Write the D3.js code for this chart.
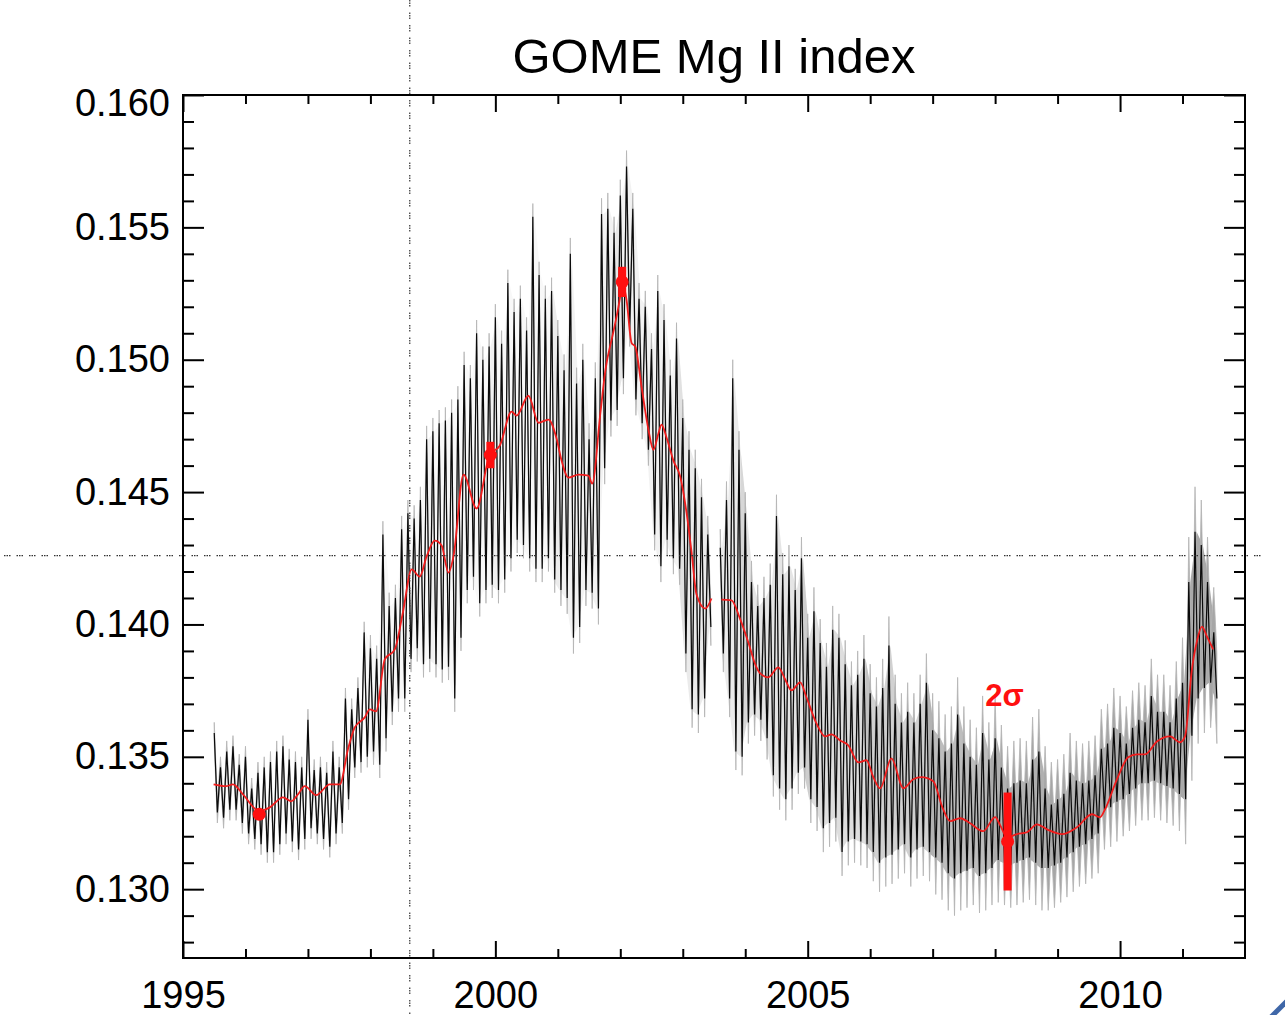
<!DOCTYPE html>
<html>
<head>
<meta charset="utf-8">
<script src="https://cdn.jsdelivr.net/npm/d3@7/dist/d3.min.js"></script>
<style>
  body { margin: 0; background: #fff; }
  svg { display: block; }
</style>
</head>
<body>
<div id="chart"></div>
<script>
// ---- data ----
const chartTitle = "GOME Mg II index";
const yMajorTicks = [0.130, 0.135, 0.140, 0.145, 0.150, 0.155, 0.160];
const xMajorTicks = [1995, 2000, 2005, 2010];

// daily index: local maxima / minima, one pair per 0.1 yr starting 1995.5
const sampleStart = 1995.5;
const sampleStep = 0.1;
const blackHi = [
  0.1359, 0.1346, 0.1352, 0.1354, 0.1347,
  0.1350, 0.1338, 0.1344, 0.1346, 0.1348, 0.1352, 0.1354, 0.1349, 0.1348, 0.1346,
  0.1364, 0.1345, 0.1346, 0.1344, 0.1352, 0.1346, 0.1372, 0.1368, 0.1376, 0.1397,
  0.1391, 0.1387, 0.1434, 0.1407, 0.1410, 0.1436, 0.1442, 0.1440, 0.1447, 0.1470,
  0.1473, 0.1476, 0.1477, 0.1480, 0.1485, 0.1498, 0.1493, 0.1510, 0.1500, 0.1505,
  0.1516, 0.1506, 0.1529, 0.1518, 0.1523, 0.1511, 0.1554, 0.1532, 0.1523, 0.1526,
  0.1509, 0.1496, 0.1540, 0.1491, 0.1500, 0.1470, 0.1493, 0.1555, 0.1557, 0.1548,
  0.1562, 0.1573, 0.1557, 0.1523, 0.1520, 0.1504, 0.1526, 0.1515, 0.1494, 0.1508,
  0.1478, 0.1466, 0.1459, 0.1448, 0.1434, null,   0.1429, 0.1447, 0.1493, 0.1466,
  0.1442, 0.1416, 0.1407, 0.1410, 0.1415, 0.1441, 0.1419, 0.1422, 0.1413, 0.1425,
  0.1395, 0.1405, 0.1393, 0.1384, 0.1398, 0.1395, 0.1385, 0.1377, 0.1381, 0.1387,
  0.1374, 0.1369, 0.1376, 0.1392, 0.1370, 0.1363, 0.1367, 0.1363, 0.1370, 0.1378,
  0.1360, 0.1357, 0.1352, 0.1355, 0.1366, 0.1355, 0.1350, 0.1347, 0.1359, 0.1349,
  0.1357, 0.1346, 0.1338, 0.1340, 0.1341, 0.1340, 0.1349, 0.1352, 0.1338, 0.1332,
  0.1334, 0.1336, 0.1344, 0.1341, 0.1340, 0.1341, 0.1343, 0.1353, 0.1355, 0.1361,
  0.1359, 0.1355, 0.1361, 0.1364, 0.1363, 0.1373, 0.1367, 0.1367, 0.1363, 0.1372,
  0.1378, 0.1416, 0.1435, 0.1430, 0.1416, 0.1397
];
const blackLo = [
  0.1329, 0.1327, 0.1330, 0.1330, 0.1325,
  0.1321, 0.1319, 0.1317, 0.1314, 0.1314, 0.1317, 0.1321, 0.1318, 0.1315, 0.1319,
  0.1323, 0.1321, 0.1319, 0.1316, 0.1321, 0.1325, 0.1334, 0.1346, 0.1348, 0.1350,
  0.1352, 0.1347, 0.1357, 0.1367, 0.1372, 0.1372, 0.1387, 0.1391, 0.1385, 0.1387,
  0.1385, 0.1383, 0.1384, 0.1372, 0.1395, 0.1413, 0.1418, 0.1408, 0.1413, 0.1415,
  0.1413, 0.1417, 0.1425, 0.1432, 0.1430, 0.1425, 0.1421, 0.1421, 0.1425, 0.1417,
  0.1413, 0.1410, 0.1395, 0.1399, 0.1413, 0.1412, 0.1406, 0.1459, 0.1477, 0.1481,
  0.1493, 0.1511, 0.1485, 0.1476, 0.1466, 0.1434, 0.1422, 0.1432, 0.1425, 0.1421,
  0.1389, 0.1368, 0.1366, 0.1372, 0.1399, null,   0.1389, 0.1372, 0.1352, 0.1350,
  0.1363, 0.1366, 0.1364, 0.1357, 0.1343, 0.1338, 0.1334, 0.1338, 0.1344, 0.1346,
  0.1334, 0.1331, 0.1323, 0.1325, 0.1327, 0.1314, 0.1318, 0.1319, 0.1318, 0.1317,
  0.1314, 0.1310, 0.1312, 0.1313, 0.1315, 0.1317, 0.1312, 0.1315, 0.1316, 0.1314,
  0.1312, 0.1310, 0.1306, 0.1304, 0.1306, 0.1307, 0.1308, 0.1305, 0.1306, 0.1308,
  0.1311, 0.1310, 0.1309, 0.1310, 0.1311, 0.1312, 0.1310, 0.1308, 0.1308, 0.1309,
  0.1310, 0.1312, 0.1314, 0.1316, 0.1317, 0.1319, 0.1321, 0.1330, 0.1331, 0.1333,
  0.1334, 0.1336, 0.1338, 0.1340, 0.1340, 0.1341, 0.1340, 0.1339, 0.1338, 0.1336,
  0.1334, 0.1358, 0.1372, 0.1376, 0.1378, 0.1372
];

// 2-sigma uncertainty of the daily values (grey band), per calendar year
const errYears = [1995, 1996, 1997, 1998, 1999, 2000, 2001, 2002, 2003, 2004, 2005, 2006, 2007, 2008, 2009, 2010, 2011];
const errHalf  = [0.0004, 0.0004, 0.0004, 0.0005, 0.0005, 0.0005, 0.0006, 0.0006, 0.0007, 0.0008, 0.0009, 0.0011, 0.0014, 0.0016, 0.0015, 0.0014, 0.0017];

// smoothed index (red); null = data gap
const redSmooth = [
  [1995.49, 0.13396], [1995.69, 0.13389], [1995.80, 0.13396], [1995.96, 0.13358], [1996.22, 0.13295],
  [1996.39, 0.13309], [1996.60, 0.13347], [1996.73, 0.13332], [1996.84, 0.13358], [1996.95, 0.13389],
  [1997.13, 0.13355], [1997.35, 0.13396], [1997.51, 0.13396], [1997.64, 0.13528], [1997.75, 0.13611],
  [1997.91, 0.13649], [1997.99, 0.13679], [1998.09, 0.13672], [1998.23, 0.13868], [1998.39, 0.13906],
  [1998.52, 0.14045], [1998.66, 0.14208], [1998.79, 0.14181], [1998.90, 0.14257], [1999.03, 0.14317],
  [1999.14, 0.14298], [1999.25, 0.14196], [1999.33, 0.14257], [1999.49, 0.14566], [1999.70, 0.14438],
  [1999.91, 0.14642], [2000.07, 0.14675], [2000.26, 0.14804], [2000.34, 0.14789], [2000.53, 0.14864],
  [2000.69, 0.14762], [2000.85, 0.14774], [2000.98, 0.14702], [2001.06, 0.14619], [2001.17, 0.14555],
  [2001.33, 0.14566], [2001.49, 0.14562], [2001.55, 0.14532], [2001.68, 0.14796], [2001.76, 0.14958],
  [2001.89, 0.15106], [2002.00, 0.15242], [2002.03, 0.15294], [2002.10, 0.15226], [2002.18, 0.15064],
  [2002.24, 0.15049], [2002.34, 0.14898], [2002.45, 0.14736], [2002.53, 0.14660], [2002.61, 0.14721],
  [2002.66, 0.14755], [2002.74, 0.14706], [2002.85, 0.14619], [2002.96, 0.14558], [2003.06, 0.14423],
  [2003.14, 0.14275], [2003.22, 0.14113], [2003.36, 0.14060], [2003.46, 0.14098], [2003.54, null],
  [2003.62, 0.14094], [2003.78, 0.14091], [2003.92, 0.14019], [2004.05, 0.13932], [2004.16, 0.13849],
  [2004.24, 0.13815], [2004.37, 0.13800], [2004.53, 0.13838], [2004.64, 0.13792], [2004.74, 0.13751],
  [2004.88, 0.13781], [2004.98, 0.13725], [2005.14, 0.13626], [2005.28, 0.13577], [2005.38, 0.13585],
  [2005.52, 0.13562], [2005.65, 0.13543], [2005.81, 0.13479], [2005.94, 0.13487], [2006.05, 0.13423],
  [2006.16, 0.13381], [2006.34, 0.13494], [2006.53, 0.13381], [2006.69, 0.13415], [2006.82, 0.13423],
  [2007.01, 0.13408], [2007.15, 0.13313], [2007.28, 0.13257], [2007.44, 0.13268], [2007.60, 0.13249],
  [2007.81, 0.13219], [2008.00, 0.13272], [2008.08, 0.13242], [2008.19, 0.13196], [2008.35, 0.13208],
  [2008.51, 0.13215], [2008.67, 0.13245], [2008.83, 0.13226], [2009.07, 0.13208], [2009.31, 0.13234],
  [2009.55, 0.13283], [2009.68, 0.13272], [2009.76, 0.13302], [2009.95, 0.13415], [2010.13, 0.13498],
  [2010.27, 0.13509], [2010.40, 0.13509], [2010.59, 0.13558], [2010.80, 0.13577], [2010.96, 0.13555],
  [2011.04, 0.13577], [2011.15, 0.13830], [2011.23, 0.13936], [2011.31, 0.13992], [2011.39, 0.13955],
  [2011.49, 0.13906]
];

// red markers with their 2-sigma bars
const markerYears = [1996.22, 1999.92, 2002.03, 2008.20];
const markerVals  = [0.13283, 0.14640, 0.15294, 0.13180];
const markerErr   = [0.00020, 0.00050, 0.00057, 0.00185];

// dotted reference lines
const refYear = 1998.63;
const refValue = 0.14260;

// ---- layout ----
const W = 1285, H = 1015;
const plot = { left: 183, right: 1245, top: 95, bottom: 958 };
const font = "'Liberation Sans', Arial, Helvetica, sans-serif";

const x = d3.scaleLinear().domain([1995, 2012]).range([plot.left, plot.right]);
const y = d3.scaleLinear().domain([0.1274, 0.160]).range([plot.bottom, plot.top]);

const svg = d3.select("#chart").append("svg")
  .attr("width", W)
  .attr("height", H)
  .style("background", "#fff");

svg.append("clipPath").attr("id", "plotclip")
  .append("rect")
    .attr("x", plot.left).attr("y", plot.top)
    .attr("width", plot.right - plot.left)
    .attr("height", plot.bottom - plot.top);

const g = svg.append("g").attr("clip-path", "url(#plotclip)");

// 1) zig-zag vertices of the daily series
const zig = [];
const env = [];
blackHi.forEach((h, i) => {
  const t = sampleStart + i * sampleStep;
  const e = errHalf[errYears.indexOf(Math.floor(t + 1e-9))];
  zig.push({ t: t, v: h, e: e });
  zig.push({ t: t + sampleStep / 2, v: blackLo[i], e: e });
  env.push({ t: t + sampleStep / 4, hi: h, lo: blackLo[i], e: e });
});

// 2a) grey core between maxima and minima; opacity follows the noise level,
//     so it only shows where the error bars overlap (late years)
const core = d3.area()
  .defined(d => d.hi !== null)
  .x(d => x(d.t))
  .y0(d => y(d.lo))
  .y1(d => y(d.hi));

const eMin = d3.min(errHalf), eMax = d3.max(errHalf);
errYears.forEach(yr => {
  const seg = env.filter(d => d.t >= yr - sampleStep && d.t < yr + 1 + sampleStep);
  if (seg.length < 2) return;
  const e = errHalf[errYears.indexOf(yr)];
  g.append("path")
    .datum(seg)
    .attr("fill", "#a9a9a9")
    .attr("fill-opacity", (e - eMin) / (eMax - eMin))
    .attr("d", core);
});

// 2b) grey uncertainty band (union of the daily error bars)
const band = d3.area()
  .defined(d => d.v !== null)
  .x(d => x(d.t))
  .y0(d => y(d.v - d.e))
  .y1(d => y(d.v + d.e));

g.append("path")
  .datum(zig)
  .attr("fill", "#a6a6a6")
  .attr("stroke", "#b4b4b4")
  .attr("stroke-width", 0.8)
  .attr("d", band);

// 3) black daily series
const zigLine = d3.line()
  .defined(d => d.v !== null)
  .x(d => x(d.t))
  .y(d => y(d.v));

g.append("path")
  .datum(zig)
  .attr("fill", "none")
  .attr("stroke", "#0a0a0a")
  .attr("stroke-width", 1.2)
  .attr("d", zigLine);

// 4) red smoothed curve
const redLine = d3.line()
  .defined(d => d[1] !== null)
  .x(d => x(d[0]))
  .y(d => y(d[1]))
  .curve(d3.curveMonotoneX);

g.append("path")
  .datum(redSmooth)
  .attr("fill", "none")
  .attr("stroke", "#f01c1c")
  .attr("stroke-width", 1.8)
  .attr("d", redLine);

// 5) dotted reference lines (they run past the frame)
svg.append("line")
  .attr("x1", x(refYear)).attr("x2", x(refYear))
  .attr("y1", 0).attr("y2", H)
  .attr("stroke", "#333")
  .attr("stroke-width", 1.2)
  .attr("stroke-dasharray", "1.5,1,1.5,1,1.5,6");

svg.append("line")
  .attr("x1", 4).attr("x2", 1264)
  .attr("y1", y(refValue)).attr("y2", y(refValue))
  .attr("stroke", "#333")
  .attr("stroke-width", 1.2)
  .attr("stroke-dasharray", "1.5,1,1.5,1,1.5,6");

// 6) red markers + error bars
const marks = markerYears.map((t, i) => ({ t: t, v: markerVals[i], e: markerErr[i] }));

svg.selectAll("rect.err")
  .data(marks)
  .enter().append("rect")
    .attr("class", "err")
    .attr("x", d => x(d.t) - 4)
    .attr("width", 8)
    .attr("y", d => y(d.v + d.e))
    .attr("height", d => y(d.v - d.e) - y(d.v + d.e))
    .attr("fill", "#ff1010");

svg.selectAll("circle.mk")
  .data(marks)
  .enter().append("circle")
    .attr("class", "mk")
    .attr("cx", d => x(d.t))
    .attr("cy", d => y(d.v))
    .attr("r", 6.5)
    .attr("fill", "#ff1010");

svg.append("text")
  .attr("x", x(2008.15))
  .attr("y", y(0.13693))
  .attr("text-anchor", "middle")
  .attr("font-family", font)
  .attr("font-weight", "bold")
  .attr("font-size", "31px")
  .attr("fill", "#ff1010")
  .text("2σ");

// 7) axes (IDL style: ticks inward on all four sides)
const yMinor = d3.range(0.128, 0.1595, 0.001).filter(v => Math.round(v * 1000) % 5 !== 0);
const xMinor = d3.range(1996, 2012, 1).filter(v => v % 5 !== 0);

function styleAxis(sel) {
  sel.select(".domain").remove();
  sel.selectAll("line").attr("stroke", "#000").attr("stroke-width", 2);
  sel.selectAll("text")
    .attr("fill", "#000")
    .attr("font-family", font)
    .attr("font-size", "38px");
}

// left
svg.append("g").attr("transform", `translate(${plot.left},0)`)
  .call(d3.axisLeft(y).tickValues(yMajorTicks).tickSize(-21).tickPadding(13).tickFormat(d3.format(".3f")))
  .call(styleAxis)
  .call(a => a.selectAll("text").filter(d => d === 0.160).attr("transform", "translate(0,8)"));
svg.append("g").attr("transform", `translate(${plot.left},0)`)
  .call(d3.axisLeft(y).tickValues(yMinor).tickSize(-11).tickFormat(""))
  .call(styleAxis);

// right
svg.append("g").attr("transform", `translate(${plot.right},0)`)
  .call(d3.axisRight(y).tickValues(yMajorTicks).tickSize(-21).tickFormat(""))
  .call(styleAxis);
svg.append("g").attr("transform", `translate(${plot.right},0)`)
  .call(d3.axisRight(y).tickValues(yMinor).tickSize(-11).tickFormat(""))
  .call(styleAxis);

// bottom
svg.append("g").attr("transform", `translate(0,${plot.bottom})`)
  .call(d3.axisBottom(x).tickValues(xMajorTicks).tickSize(-17).tickPadding(23).tickFormat(d3.format("d")))
  .call(styleAxis);
svg.append("g").attr("transform", `translate(0,${plot.bottom})`)
  .call(d3.axisBottom(x).tickValues(xMinor).tickSize(-9).tickFormat(""))
  .call(styleAxis);

// top
svg.append("g").attr("transform", `translate(0,${plot.top})`)
  .call(d3.axisTop(x).tickValues(xMajorTicks).tickSize(-17).tickFormat(""))
  .call(styleAxis);
svg.append("g").attr("transform", `translate(0,${plot.top})`)
  .call(d3.axisTop(x).tickValues(xMinor).tickSize(-9).tickFormat(""))
  .call(styleAxis);

// frame
svg.append("rect")
  .attr("x", plot.left).attr("y", plot.top)
  .attr("width", plot.right - plot.left)
  .attr("height", plot.bottom - plot.top)
  .attr("fill", "none")
  .attr("stroke", "#000")
  .attr("stroke-width", 2);

// 8) title
svg.append("text")
  .attr("x", (plot.left + plot.right) / 2)
  .attr("y", 73)
  .attr("text-anchor", "middle")
  .attr("font-family", font)
  .attr("font-size", "49px")
  .attr("fill", "#000")
  .text(chartTitle);

// slide decoration in the lower right corner
svg.append("line")
  .attr("x1", 1271).attr("y1", 1017)
  .attr("x2", 1287).attr("y2", 1001)
  .attr("stroke", "#3f67a8")
  .attr("stroke-width", 5);
</script>
</body>
</html>
